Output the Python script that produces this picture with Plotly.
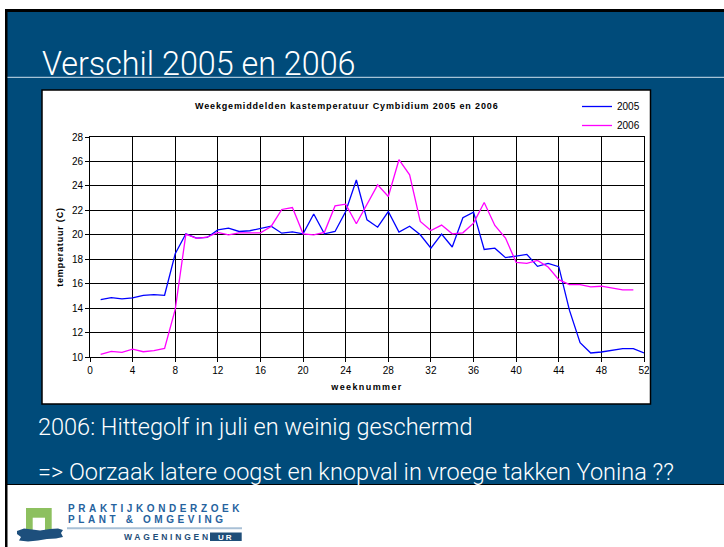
import plotly.graph_objects as go

# weekgemiddelden kastemperatuur (C)
weeks_2005 = list(range(1, 53))
temp_2005 = [14.70, 14.86, 14.76, 14.84, 15.05, 15.10, 15.05, 18.45, 20.08, 19.73,
             19.78, 20.40, 20.54, 20.27, 20.33, 20.52, 20.70, 20.13, 20.24, 20.08,
             21.70, 20.08, 20.27, 21.90, 24.48, 21.22, 20.62, 21.90, 20.22, 20.70,
             20.00, 18.90, 20.05, 19.00, 21.39, 21.85, 18.80, 18.90, 18.13, 18.26,
             18.40, 17.42, 17.66, 17.39, 13.83, 11.17, 10.33, 10.41, 10.57, 10.68,
             10.68, 10.33]
weeks_2006 = list(range(1, 52))
temp_2006 = [10.22, 10.46, 10.38, 10.65, 10.43, 10.52, 10.70, 13.90, 20.05, 19.70,
             19.80, 20.20, 20.00, 20.16, 20.16, 20.16, 20.68, 22.07, 22.23, 20.08,
             20.00, 20.20, 22.36, 22.50, 20.90, 22.47, 24.08, 23.13, 26.14, 24.90,
             21.09, 20.35, 20.79, 20.08, 20.16, 20.95, 22.64, 20.76, 19.73, 17.74,
             17.66, 17.90, 17.36, 16.33, 15.92, 15.92, 15.73, 15.79, 15.63, 15.49,
             15.49]
x_ticks = list(range(0, 53, 4))
y_ticks = list(range(10, 29, 2))

W, H = 724, 547
L, R, T, B = 90, 80, 137, 190
SLIDE_BLUE = '#004b7a'
CHART_FONT = 'Liberation Sans, Arial, sans-serif'
SLIDE_FONT = 'Roboto, Lato, sans-serif'


def px(x):
    return (x - L) / (W - L - R)


def py(y):
    return (H - B - y) / (H - T - B)


def rect(x0, y0, x1, y1, fill, line_color=None, line_width=0):
    return dict(type='rect', xref='paper', yref='paper', layer='below',
                x0=px(x0), x1=px(x1), y0=py(y1), y1=py(y0),
                fillcolor=fill, line=dict(color=line_color or fill, width=line_width))


def path(points, fill):
    d = 'M ' + ' L '.join(f'{px(a):.5f},{py(b):.5f}' for a, b in points) + ' Z'
    return dict(type='path', xref='paper', yref='paper', layer='below', path=d,
                fillcolor=fill, line=dict(width=0))


def text(s, x, y, size, color, family=SLIDE_FONT, xanchor='left', weight='normal'):
    return dict(text=s, x=px(x), y=py(y), xref='paper', yref='paper',
                xanchor=xanchor, yanchor='middle', showarrow=False,
                font=dict(size=size, color=color, family=family, weight=weight))


fig = go.Figure()
fig.add_trace(go.Scatter(x=weeks_2005, y=temp_2005, mode='lines', name='2005',
                         line=dict(color='#0000ff', width=1.3)))
fig.add_trace(go.Scatter(x=weeks_2006, y=temp_2006, mode='lines', name='2006',
                         line=dict(color='#ff00ff', width=1.3)))

shapes = [
    rect(5, 9, W + 2, 485, '#000000'),
    rect(7.5, 12, W + 2, 484, SLIDE_BLUE),
    rect(5, 484, 7.5, H + 2, '#000000'),
    dict(type='line', xref='paper', yref='paper', layer='below',
         x0=px(7.5), x1=px(W), y0=py(77.3), y1=py(77.3),
         line=dict(color='#cfe0ee', width=1)),
    rect(42, 90, 650.5, 404, '#ffffff', '#000000', 1.5),
    # logo
    rect(26, 508, 51.7, 531.7, '#8dc05f'),
    rect(32.7, 517.7, 45, 531.7, '#ffffff'),
    path([(17, 531), (24, 528.5), (32, 529.5), (40, 530.5), (50, 529), (58, 528.5), (63, 530),
          (61, 533), (63, 537), (56, 538.5), (47, 539), (38, 540.5), (28, 541.5), (19, 540.5),
          (21, 537), (17, 534)], '#1d4f7c'),
    dict(type='line', xref='paper', yref='paper', layer='below',
         x0=px(67), x1=px(242), y0=py(528.3), y1=py(528.3),
         line=dict(color='#a9c0d6', width=2)),
    rect(210, 532.5, 241.7, 541, '#1f4e79'),
]

annotations = [
    text('Verschil 2005 en 2006', 39.5, 64.5, 32.3, '#ffffff', weight=300),
    text('2006: Hittegolf in juli en weinig geschermd', 35.5, 427, 23.5, '#ffffff', weight=300),
    text('=> Oorzaak latere oogst en knopval in vroege takken Yonina ??', 35.5, 472, 23.5, '#ffffff',
         weight=300),
    text('<span style="letter-spacing:0.85px">Weekgemiddelden kastemperatuur Cymbidium 2005 en 2006</span>',
         346, 105.5, 9, '#000000', CHART_FONT, 'center', 'bold'),
    text('<span style="letter-spacing:3.6px">PRAKTIJKONDERZOEK</span>', 66, 508.5, 10, '#25629e',
         CHART_FONT, weight='bold'),
    text('<span style="letter-spacing:3.6px">PLANT &amp; OMGEVING</span>', 66, 519.5, 10, '#25629e',
         CHART_FONT, weight='bold'),
    text('<span style="letter-spacing:2.8px">WAGENINGEN</span>', 122, 537, 8.5, '#1f4e79',
         CHART_FONT, weight='bold'),
    text('<span style="letter-spacing:2px">UR</span>', 226, 537, 8, '#ffffff',
         CHART_FONT, 'center', 'bold'),
]

axis_common = dict(showgrid=True, gridcolor='#000000', gridwidth=1, showline=True,
                   linecolor='#000000', linewidth=1, mirror=True, ticks='outside',
                   ticklen=4, tickcolor='#000000', zeroline=False,
                   tickfont=dict(size=10, color='#000000', family=CHART_FONT))

fig.update_xaxes(range=[0, 52], tickvals=x_ticks,
                 title=dict(text='<span style="letter-spacing:1.4px">weeknummer</span>',
                            font=dict(size=9, color='#000000', family=CHART_FONT, weight='bold'),
                            standoff=8),
                 **axis_common)
fig.update_yaxes(range=[10, 28], tickvals=y_ticks,
                 title=dict(text='<span style="letter-spacing:0.8px">temperatuur (C)</span>',
                            font=dict(size=9, color='#000000', family=CHART_FONT, weight='bold'),
                            standoff=6),
                 **axis_common)

fig.update_layout(
    width=W, height=H,
    margin=dict(l=L, r=R, t=T, b=B, autoexpand=False),
    template='none',
    paper_bgcolor='#ffffff',
    plot_bgcolor='#ffffff',
    font=dict(family=CHART_FONT, color='#000000'),
    showlegend=True,
    legend=dict(x=px(577), y=py(92), xanchor='left', yanchor='top',
                bgcolor='rgba(0,0,0,0)', font=dict(size=10, color='#000000'),
                itemwidth=30, tracegroupgap=0),
    shapes=shapes,
    annotations=annotations,
)

# the page body has a default 8px margin; drop it so the slide fills the window
fig.write_html('out.html', config={'displayModeBar': False},
               post_script="document.body.style.margin='0px';")
